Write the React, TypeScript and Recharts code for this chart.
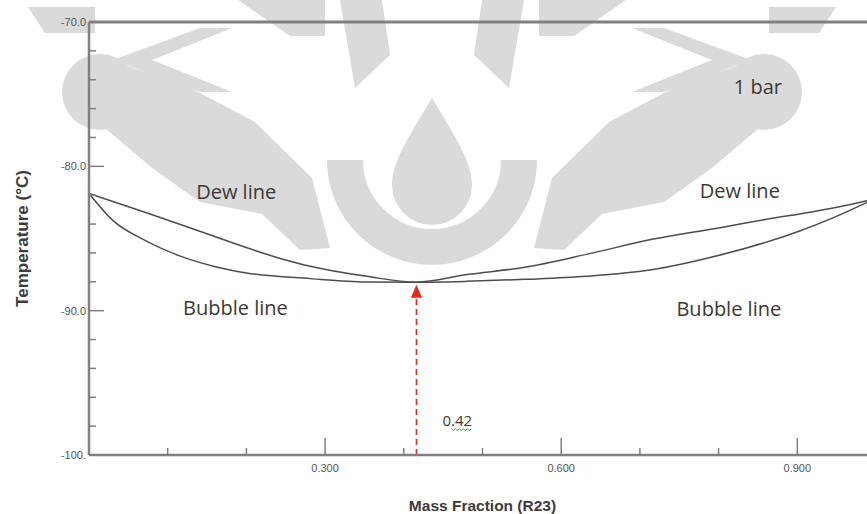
import { LineChart, Line, XAxis, YAxis, ReferenceLine, ReferenceDot, Label } from 'recharts';

// dew line (upper curve)
const dewX = [0, 0.073, 0.158, 0.243, 0.281, 0.353, 0.416, 0.48, 0.554, 0.632, 0.717, 0.802, 0.861, 0.925, 0.988, 1.0];
const dewT = [-81.88, -83.21, -84.83, -86.38, -86.92, -87.62, -88.03, -87.5, -86.99, -86.1, -85.04, -84.25, -83.67, -83.09, -82.39, -82.2];

// bubble line (lower curve)
const bubX = [0, 0.031, 0.073, 0.116, 0.158, 0.2, 0.281, 0.353, 0.416, 0.48, 0.554, 0.632, 0.717, 0.802, 0.903, 0.946, 0.988, 1.0];
const bubT = [-81.88, -83.78, -85.18, -86.22, -86.92, -87.39, -87.78, -88.01, -88.03, -87.97, -87.83, -87.62, -87.15, -86.15, -84.48, -83.55, -82.51, -82.2];

const xTicks = [0, 0.1, 0.2, 0.3, 0.4, 0.5, 0.6, 0.7, 0.8, 0.9, 1.0];
const xMajor = [0.3, 0.6, 0.9];
const xLabels = ['0.300', '0.600', '0.900'];
const yTicks = [-100, -98, -96, -94, -92, -90, -88, -86, -84, -82, -80, -78, -76, -74, -72, -70];
const yMajor = [-100, -90, -80, -70];
const yLabels = ['-100.', '-90.0', '-80.0', '-70.0'];

// azeotrope marker
const azeoX = 0.416;
const azeoT = -88.2;
const azeoBaseT = -89.1;

// text notes on the plot
const noteText = ['1 bar', 'Dew line', 'Dew line', 'Bubble line', 'Bubble line'];
const noteX = [0.85, 0.187, 0.827, 0.186, 0.813];
const noteT = [-74.5, -81.72, -81.68, -89.8, -89.82];
const markLabel = '0.42';
const markLabelX = 0.468;
const markLabelT = -97.55;

const dewData = dewX.map((x, i) => ({ x, t: dewT[i] }));
const bubData = bubX.map((x, i) => ({ x, t: bubT[i] }));

const AXIS = '#808080';
const TICKFONT = 'Arial, "Liberation Sans", sans-serif';
const NOTEFONT = '"Open Sans", sans-serif';

const findIdx = (arr: number[], v: number) => arr.findIndex((m) => Math.abs(m - v) < 1e-6);

const BottomTick = (p: any) => {
  const i = findIdx(xMajor, p.payload.value);
  const len = i >= 0 ? 17 : 7;
  return (
    <g>
      <line x1={p.x} x2={p.x} y1={p.y} y2={p.y - len} stroke={AXIS} strokeWidth={1.5} />
      {i >= 0 && (
        <text x={p.x} y={p.y + 17} textAnchor="middle" fontSize={11} fill="#555" fontFamily={TICKFONT}>
          {xLabels[i]}
        </text>
      )}
    </g>
  );
};

const TopTick = (p: any) => {
  const len = findIdx(xMajor, p.payload.value) >= 0 ? 17 : 6;
  return <line x1={p.x} x2={p.x} y1={p.y} y2={p.y + len} stroke={AXIS} strokeWidth={1.5} />;
};

const LeftTick = (p: any) => {
  const i = findIdx(yMajor, p.payload.value);
  const len = i >= 0 ? 15 : 7;
  return (
    <g>
      <line x1={p.x} x2={p.x + len} y1={p.y} y2={p.y} stroke={AXIS} strokeWidth={1.5} />
      {i >= 0 && (
        <text x={p.x - 3} y={p.y + 4} textAnchor="end" fontSize={11} fill="#555" fontFamily={TICKFONT}>
          {yLabels[i]}
        </text>
      )}
    </g>
  );
};

const RightTick = (p: any) => {
  const len = findIdx(yMajor, p.payload.value) >= 0 ? 15 : 7;
  return <line x1={p.x} x2={p.x - len} y1={p.y} y2={p.y} stroke={AXIS} strokeWidth={1.5} />;
};

const noteShape = (text: string) => (p: any) => (
  <text x={p.cx} y={p.cy} textAnchor="middle" dominantBaseline="central" fontSize={20} fontFamily={NOTEFONT} fill="#3b3a35">
    {text}
  </text>
);

const markShape = (p: any) => (
  <g>
    <text x={p.cx} y={p.cy} textAnchor="middle" dominantBaseline="central" fontSize={15} fontFamily={NOTEFONT} fill="#3b3a35">
      {markLabel}
    </text>
    <path
      d={`M${p.cx - 6},${p.cy + 9} l2,2 l2,-2 l2,2 l2,-2 l2,2 l2,-2 l2,2 l2,-2 l2,2 l2,-2`}
      fill="none"
      stroke="#3a9a3a"
      strokeWidth={1}
    />
  </g>
);

const arrowShape = (p: any) => (
  <path d={`M${p.cx},${p.cy} L${p.cx - 5.5},${p.cy + 13} L${p.cx + 5.5},${p.cy + 13} Z`} fill="#e8261c" />
);

// faint decorative watermark behind the plot
function Watermark() {
  const half = (
    <g fill="#dadada">
      <polygon points="28,7 95,7 95,33 45,33" />
      <polygon points="238,0 325,0 325,36 290,36" />
      <polygon points="113,60 200,28 232,28 152,60 232,92 200,92" />
      <circle cx={100} cy={92} r={38} />
      <polygon points="110,60 185,85 255,122 312,178 330,248 300,250 262,214 200,202 152,168 105,128" />
      <polygon points="340,0 382,0 390,55 355,88" />
    </g>
  );
  return (
    <svg width={867} height={514} style={{ position: 'absolute', left: 0, top: 0 }}>
      {half}
      <g transform="translate(864,0) scale(-1,1)">{half}</g>
      <path d="M 345 160 A 87 87 0 0 0 519 160" fill="none" stroke="#dadada" strokeWidth={36} />
      <path d="M 432 98 C 452 132 472 160 472 185 A 40 40 0 0 1 392 185 C 392 160 412 132 432 98 Z" fill="#dadada" />
    </svg>
  );
}

export default function App() {
  return (
    <div style={{ position: 'relative', width: 867, height: 514, overflow: 'hidden', background: '#fff' }}>
      <style>{'body{margin:0}'}</style>
      <Watermark />
      <div style={{ position: 'absolute', left: 0, top: 0, width: 900, height: 514 }}>
        <LineChart width={900} height={514} margin={{ top: 0, right: 0, bottom: 0, left: 0 }}>
          <XAxis
            xAxisId="b"
            type="number"
            dataKey="x"
            domain={[0, 1]}
            ticks={xTicks}
            interval={0}
            height={59}
            tickSize={0}
            tickMargin={0}
            tickLine={false}
            tick={BottomTick}
            axisLine={{ stroke: AXIS, strokeWidth: 2.5 }}
          >
            <Label
              content={(p: any) => (
                <text
                  x={p.viewBox.x + p.viewBox.width / 2}
                  y={p.viewBox.y + 50}
                  textAnchor="middle"
                  dominantBaseline="central"
                  fontSize={15.5}
                  fontWeight="bold"
                  fill="#3c3c3c"
                  fontFamily={TICKFONT}
                >
                  Mass Fraction (R23)
                </text>
              )}
            />
          </XAxis>
          <XAxis
            xAxisId="t"
            orientation="top"
            type="number"
            dataKey="x"
            domain={[0, 1]}
            ticks={xTicks}
            interval={0}
            height={22}
            tickSize={0}
            tickMargin={0}
            tickLine={false}
            tick={TopTick}
            axisLine={{ stroke: AXIS, strokeWidth: 3 }}
          />
          <YAxis
            yAxisId="l"
            type="number"
            domain={[-100, -70]}
            ticks={yTicks}
            interval={0}
            width={89}
            tickSize={0}
            tickMargin={0}
            tickLine={false}
            tick={LeftTick}
            axisLine={{ stroke: AXIS, strokeWidth: 2.5 }}
          >
            <Label
              content={(p: any) => {
                const cx = p.viewBox.x + 22;
                const cy = p.viewBox.y + p.viewBox.height / 2;
                return (
                  <text
                    x={cx}
                    y={cy}
                    transform={`rotate(-90 ${cx} ${cy})`}
                    textAnchor="middle"
                    dominantBaseline="central"
                    fontSize={17}
                    fontWeight="bold"
                    fill="#3c3c3c"
                    fontFamily={TICKFONT}
                  >
                    Temperature (°C)
                  </text>
                );
              }}
            />
          </YAxis>
          <YAxis
            yAxisId="r"
            orientation="right"
            type="number"
            domain={[-100, -70]}
            ticks={yTicks}
            interval={0}
            width={24}
            tickSize={0}
            tickMargin={0}
            tickLine={false}
            tick={RightTick}
            axisLine={{ stroke: AXIS, strokeWidth: 2.5 }}
          />
          <Line
            xAxisId="b"
            yAxisId="l"
            data={dewData}
            dataKey="t"
            type="monotone"
            stroke="#4d4d4d"
            strokeWidth={1.5}
            dot={false}
            isAnimationActive={false}
          />
          <Line
            xAxisId="b"
            yAxisId="l"
            data={bubData}
            dataKey="t"
            type="monotone"
            stroke="#4d4d4d"
            strokeWidth={1.5}
            dot={false}
            isAnimationActive={false}
          />
          <ReferenceLine
            xAxisId="b"
            yAxisId="l"
            segment={[
              { x: azeoX, y: -100 },
              { x: azeoX, y: azeoBaseT },
            ]}
            stroke="#e8261c"
            strokeWidth={1.5}
            strokeDasharray="6 4"
          />
          <ReferenceDot xAxisId="b" yAxisId="l" x={azeoX} y={azeoT} r={0} shape={arrowShape} />
          {noteText.map((t, i) => (
            <ReferenceDot key={i} xAxisId="b" yAxisId="l" x={noteX[i]} y={noteT[i]} r={0} shape={noteShape(t)} />
          ))}
          <ReferenceDot xAxisId="b" yAxisId="l" x={markLabelX} y={markLabelT} r={0} shape={markShape} />
        </LineChart>
      </div>
    </div>
  );
}
